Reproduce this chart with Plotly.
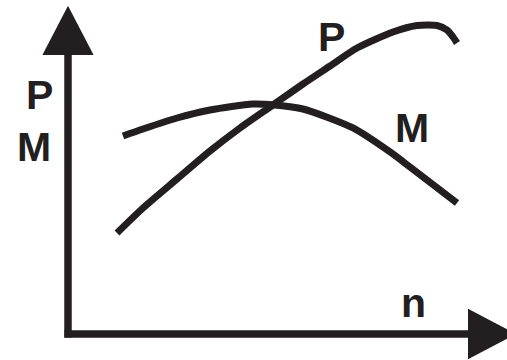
import plotly.graph_objects as go

# Engine characteristic: power P and torque M against speed n (arbitrary units)
n_torque = [13.75, 18.75, 27.25, 35.5, 46.25, 51.75, 58.75, 71.25, 80.5, 85.5, 97.25]
torque = [66.0, 68.33, 72.0, 74.67, 76.67, 76.33, 75.0, 68.67, 60.67, 55.67, 43.67]

n_power = [12.25, 18.75, 27.25, 35.5, 43.0, 51.25, 58.75, 65.5, 72.25, 81.25, 87.25, 92.25, 94.75, 96.25, 97.25]
power = [33.67, 42.0, 51.67, 61.0, 68.67, 76.33, 83.33, 89.33, 95.33, 100.67, 102.83, 102.83, 101.33, 99.0, 97.0]

INK = "#231f20"
FONT = dict(family="Liberation Sans, Arial, sans-serif", size=41, color=INK)

fig = go.Figure()
fig.add_trace(go.Scatter(x=n_torque, y=torque, mode="lines",
                         line=dict(color=INK, width=7, shape="spline", smoothing=0.7),
                         hoverinfo="skip", showlegend=False))
fig.add_trace(go.Scatter(x=n_power, y=power, mode="lines",
                         line=dict(color=INK, width=7, shape="spline", smoothing=0.7),
                         hoverinfo="skip", showlegend=False))

# Axes drawn as thick arrows meeting at the origin
fig.add_shape(type="line", x0=0, y0=-1.2, x1=0, y1=93.5, line=dict(color=INK, width=7.5))
fig.add_shape(type="line", x0=-0.9, y0=0, x1=100.5, y1=0, line=dict(color=INK, width=7.5))
fig.add_shape(type="path", path="M -6.4 93 L 6.4 93 L 0 109.4 Z",
              fillcolor=INK, line=dict(width=0))
fig.add_shape(type="path", path="M 100 8.4 L 100 -8.4 L 112 0 Z",
              fillcolor=INK, line=dict(width=0))

labels = [
    ("P", -7.25, 79.7),
    ("M", -8.5, 62.3),
    ("P", 65.75, 99.0),
    ("M", 86.0, 68.7),
    ("n", 86.25, 10.3),
]
for text, x, y in labels:
    fig.add_annotation(x=x, y=y, text=f"<b>{text}</b>", showarrow=False,
                       xanchor="center", yanchor="middle", font=FONT)

fig.update_layout(
    width=507, height=360,
    margin=dict(l=0, r=0, t=0, b=0),
    paper_bgcolor="white", plot_bgcolor="white",
    xaxis=dict(range=[-17, 109.75], visible=False, fixedrange=True),
    yaxis=dict(range=[-8.667, 111.333], visible=False, fixedrange=True),
    hovermode=False,
)

fig.write_html("out.html", config={"displayModeBar": False, "staticPlot": True})
